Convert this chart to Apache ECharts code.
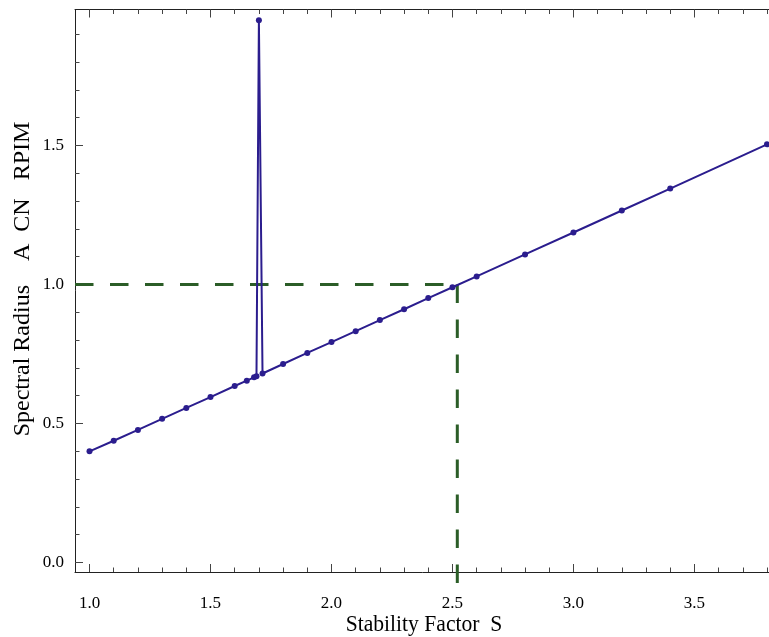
<!DOCTYPE html>
<html>
<head>
<meta charset="utf-8">
<script src="https://cdn.jsdelivr.net/npm/echarts@6/dist/echarts.min.js"></script>
<style>html,body{margin:0;padding:0;background:#fff;}#c{width:769px;height:637px;}</style>
</head>
<body>
<div id="c"></div>
<script>
// ---- data ----
var sValues = [1.0, 1.1, 1.2, 1.3, 1.4, 1.5, 1.6, 1.65, 1.68, 1.69, 1.70, 1.715, 1.8, 1.9, 2.0, 2.1, 2.2, 2.3, 2.4, 2.5, 2.6, 2.8, 3.0, 3.2, 3.4, 3.8];
var radiusValues = [0.400, 0.438, 0.477, 0.517, 0.556, 0.595, 0.635, 0.654, 0.666, 0.670, 1.950, 0.680, 0.714, 0.754, 0.793, 0.832, 0.872, 0.911, 0.951, 0.990, 1.029, 1.108, 1.187, 1.266, 1.345, 1.504];
var refS = 2.52;
var refRadius = 1.0;
var refBottom = -0.11;
var xMajorTicks = [1.0, 1.5, 2.0, 2.5, 3.0, 3.5];
var xMinorTicks = [1.1,1.2,1.3,1.4,1.6,1.7,1.8,1.9,2.1,2.2,2.3,2.4,2.6,2.7,2.8,2.9,3.1,3.2,3.3,3.4,3.6,3.7,3.8];
var yMajorTicks = [0.0, 0.5, 1.0, 1.5];
var yMinorTicks = [0.1,0.2,0.3,0.4,0.6,0.7,0.8,0.9,1.1,1.2,1.3,1.4,1.6,1.7,1.8,1.9];
var xTitle = 'Stability Factor  S';
var yTitle = 'Spectral Radius    A  CN   RPIM';

var X_MIN = 0.940, X_MAX = 3.833, Y_MIN = -0.034, Y_MAX = 1.989;
var FONT = "'Liberation Serif','Times New Roman',serif";
var LINE = '#2b1d8e', REF = '#2b5d27', AX = '#222';

function xAxisDef(pos, ticks, len, labels, showLine) {
  return {
    type: 'value', position: pos, min: X_MIN, max: X_MAX, scale: true,
    axisLine: {show: showLine, onZero: false, lineStyle: {color: AX, width: 1}},
    axisTick: {show: true, inside: true, length: len, customValues: ticks, lineStyle: {color: '#444', width: 1}},
    axisLabel: labels ? {show: true, customValues: ticks, margin: 23, fontFamily: FONT, fontSize: 17, color: '#000',
      formatter: function (v) { return v.toFixed(1); }} : {show: false},
    splitLine: {show: false}
  };
}
function yAxisDef(pos, ticks, len, labels, showLine) {
  return {
    type: 'value', position: pos, min: Y_MIN, max: Y_MAX, scale: true,
    axisLine: {show: showLine, onZero: false, lineStyle: {color: AX, width: 1}},
    axisTick: {show: true, inside: true, length: len, customValues: ticks, lineStyle: {color: '#444', width: 1}},
    axisLabel: labels ? {show: true, customValues: ticks, margin: 11, fontFamily: FONT, fontSize: 17, color: '#000',
      formatter: function (v) { return v.toFixed(1); }} : {show: false},
    splitLine: {show: false}
  };
}

var chart = echarts.init(document.getElementById('c'), null, {renderer: 'canvas'});
chart.setOption({
  animation: false,
  backgroundColor: '#fff',
  grid: {left: 75, top: 9.5, width: 700, height: 562.5, containLabel: false, outerBoundsMode: 'none'},
  xAxis: [
    xAxisDef('bottom', xMajorTicks, 8, true, true),
    xAxisDef('bottom', xMinorTicks, 4.5, false, false),
    xAxisDef('top', xMajorTicks, 8, false, true),
    xAxisDef('top', xMinorTicks, 4.5, false, false)
  ],
  yAxis: [
    yAxisDef('left', yMajorTicks, 8, true, true),
    yAxisDef('left', yMinorTicks, 4.5, false, false)
  ],
  graphic: [{
    type: 'text', x: 424, y: 625, scaleX: 0.9,
    style: {text: xTitle, font: '24px ' + FONT, fill: '#000', align: 'center', verticalAlign: 'middle'}
  }, {
    type: 'text', x: 23, y: 279, rotation: Math.PI / 2,
    style: {text: yTitle, font: '24px ' + FONT, fill: '#000', align: 'center', verticalAlign: 'middle'}
  }],
  series: [
    {
      type: 'line', xAxisIndex: 0, yAxisIndex: 0, clip: false,
      data: [[X_MIN, refRadius], [refS, refRadius]],
      symbol: 'none', lineStyle: {color: REF, width: 3, type: [18.5, 16.5]}, z: 2
    },
    {
      type: 'line', xAxisIndex: 0, yAxisIndex: 0, clip: false,
      data: [[refS, refRadius], [refS, refBottom]],
      symbol: 'none', lineStyle: {color: REF, width: 3, type: [18.5, 16.5]}, z: 2
    },
    {
      type: 'line', xAxisIndex: 0, yAxisIndex: 0,
      data: sValues.map(function (s, i) { return [s, radiusValues[i]]; }),
      symbol: 'circle', symbolSize: 6, showSymbol: true,
      itemStyle: {color: LINE}, lineStyle: {color: LINE, width: 2}, z: 3
    }
  ]
});
</script>
</body>
</html>
